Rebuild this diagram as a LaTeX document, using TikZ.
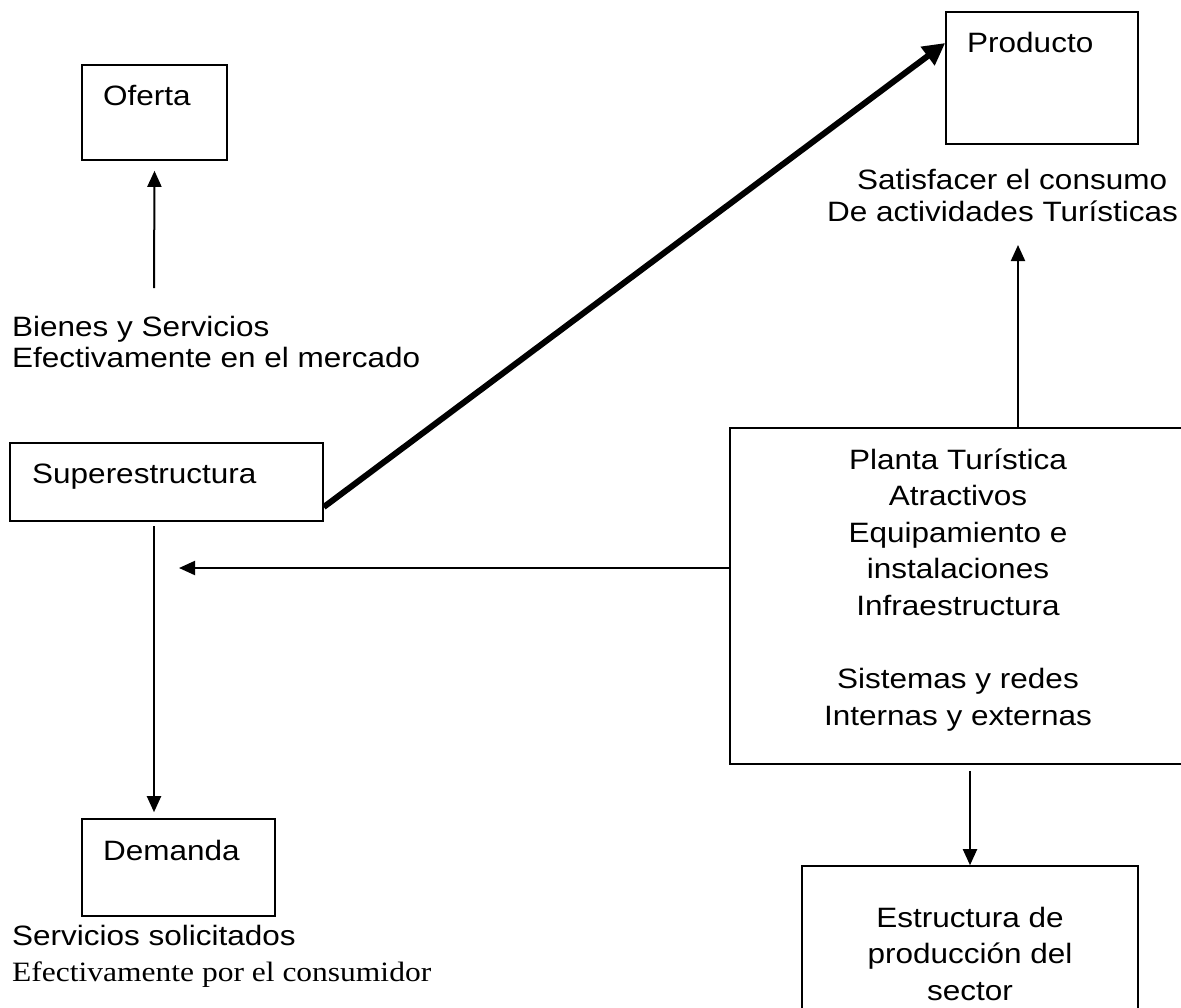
\documentclass[tikz,border=0pt]{standalone}
\usepackage{fontspec}
\setmainfont{Liberation Sans}[FakeStretch=1.125]
\newfontfamily\timesfont{Liberation Serif}[FakeStretch=1.125]
\usetikzlibrary{arrows.meta,calc}

\begin{document}
\begin{tikzpicture}[x=1pt,y=-1pt,
  box/.style={draw,line width=1.6pt,rectangle,inner sep=0pt},
  txt/.style={inner sep=0pt,anchor=base west,font=\fontsize{28}{36.6}\selectfont},
  ctxt/.style={txt,anchor=base},
  arr/.style={line width=2pt,-{Triangle[length=16pt,width=14pt]}},
  bigarr/.style={line width=6pt,-{Triangle[length=22pt,width=22pt]}}]

\useasboundingbox (0,0) rectangle (1181,1007);
\clip (0,0) rectangle (1181,1007);

% boxes
\node[box,minimum width=145pt,minimum height=95pt] (oferta) at (154.5,112.5) {};
\node[box,minimum width=192pt,minimum height=132pt] (producto) at (1042,78) {};
\node[box,minimum width=313pt,minimum height=78pt] (super) at (166.5,482) {};
\node[box,minimum width=193pt,minimum height=97pt] (demanda) at (178.5,867.5) {};
\node[box,minimum width=460pt,minimum height=336pt] (planta) at (960,596) {};
\node[box,minimum width=336pt,minimum height=180pt] (estr) at (970,956) {};

% box titles
\node[txt] (tOferta) at (103,105) {Oferta};
\node[txt] (tProducto) at (967,52) {Producto};
\node[txt] (tSuper) at (32,483) {Superestructura};
\node[txt] (tDemanda) at (103,860) {Demanda};

% free labels
\node[txt] (bien1) at (12,336) {Bienes y Servicios};
\node[txt] (bien2) at (12,367) {Efectivamente en el mercado};
\node[txt] (sat1) at (857,189) {Satisfacer el consumo};
\node[txt] (sat2) at (827,221) {De actividades Turísticas};
\node[txt] (serv1) at (12,945) {Servicios solicitados};
\node[txt,font=\timesfont\fontsize{28}{36}\selectfont] (serv2) at (12,981) {Efectivamente por el consumidor};

% contents of the plant box
\foreach \line [count=\i] in {Planta Turística,Atractivos,Equipamiento e,instalaciones,Infraestructura,,Sistemas y redes,Internas y externas}
  \node[ctxt] (pl\i) at (958,{469+36.6*(\i-1)}) {\line};

% contents of the production-structure box
\node[ctxt] (es1) at (970,927) {Estructura de};
\node[ctxt] (es2) at (970,963) {producción del};
\node[ctxt] (es3) at (970,1000) {sector};

% connector end points
\coordinate (bq) at (154,288);
\coordinate (sq) at (154,526);
\coordinate (pw) at ([yshift=28pt]planta.west);
\coordinate (hq) at (179,0);
\coordinate (uq) at (1018,245);

% connectors
\draw[arr] (bq) -- ([yshift=-10pt]oferta.south);
\draw[bigarr] ([yshift=-25pt]super.east) -- ([yshift=35pt]producto.west);
\draw[arr] (sq) -- ($(sq |- demanda.north)+(0,-6)$);
\draw[arr] (pw) -- (hq |- pw);
\draw[arr] (uq |- planta.north) -- (uq);
\draw[arr] ($(estr.north |- planta.south)+(0,6)$) -- (estr.north);
\end{tikzpicture}
\end{document}
